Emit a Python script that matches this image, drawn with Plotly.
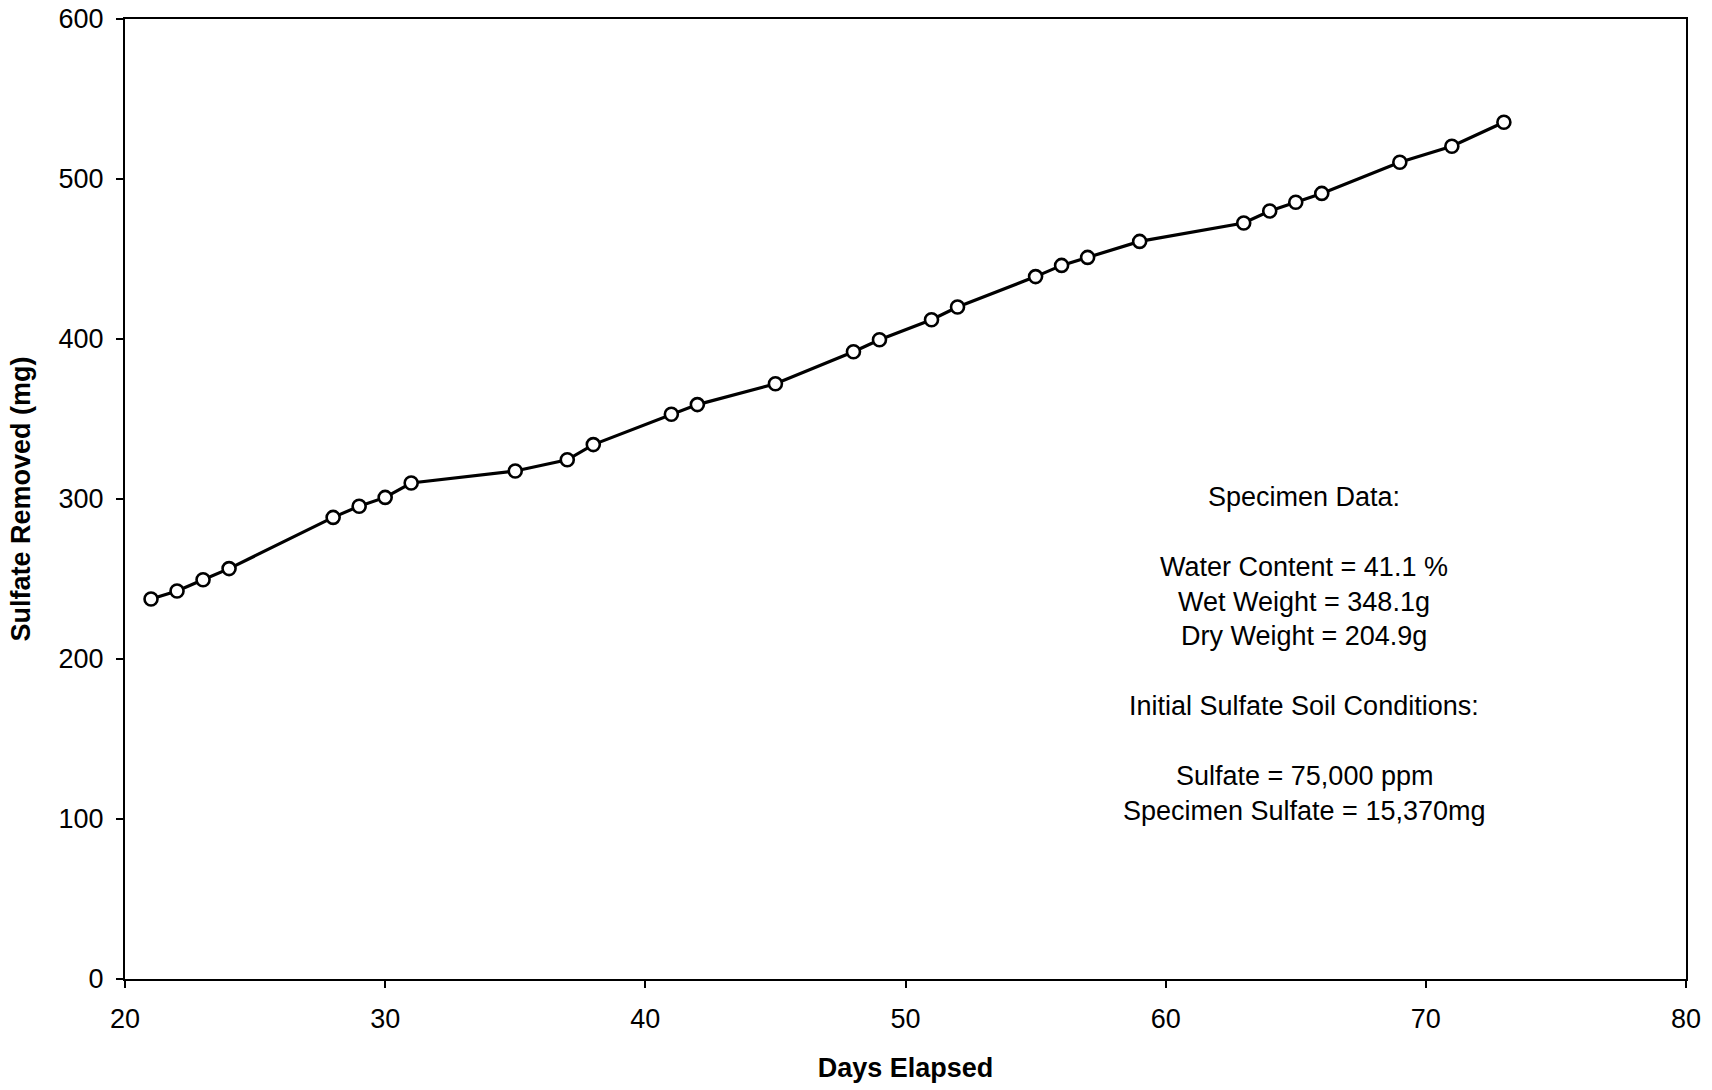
import plotly.graph_objects as go

days = [21, 22, 23, 24, 28, 29, 30, 31, 35, 37, 38, 41, 42, 45, 48, 49, 51, 52,
        55, 56, 57, 59, 63, 64, 65, 66, 69, 71, 73]
sulfate_removed = [237.5, 242.5, 249.5, 256.5, 288.5, 295.5, 301, 310, 317.5, 324.5,
                   334, 353, 359, 372, 392, 399.5, 412, 420, 439, 446, 451, 461,
                   472.5, 480, 485.5, 491, 510.5, 520.5, 535.5]

x_ticks = [20, 30, 40, 50, 60, 70, 80]
y_ticks = [0, 100, 200, 300, 400, 500, 600]

note_lines = [
    "Specimen Data:",
    "",
    "Water Content = 41.1 %",
    "Wet Weight = 348.1g",
    "Dry Weight = 204.9g",
    "",
    "Initial Sulfate Soil Conditions:",
    "",
    "Sulfate = 75,000 ppm",
    "Specimen Sulfate = 15,370mg",
]

FONT = "Liberation Sans, Arial, sans-serif"

fig = go.Figure()
fig.add_trace(go.Scatter(
    x=days, y=sulfate_removed, mode="lines+markers",
    line=dict(color="black", width=3.2),
    marker=dict(symbol="circle", size=13, color="white",
                line=dict(color="black", width=2.6)),
    showlegend=False,
))

# annotation block: centered text, evenly spaced lines
line_step = 21.8  # data units per line
top_y = 301.3
for i, t in enumerate(note_lines):
    if not t:
        continue
    fig.add_annotation(
        x=65.32, y=top_y - i * line_step, xref="x", yref="y",
        text=t, showarrow=False, xanchor="center", yanchor="middle",
        font=dict(family=FONT, size=27, color="black"),
    )

axis_common = dict(
    showline=True, linecolor="black", linewidth=2.2, mirror=True,
    ticks="outside", ticklen=7, tickwidth=1.5, tickcolor="black",
    showgrid=False, zeroline=False, ticklabelstandoff=7,
    ticklabeloverflow="allow", automargin=False,
    tickfont=dict(family=FONT, size=27, color="black"),
)

fig.update_layout(
    width=1712, height=1090,
    paper_bgcolor="white", plot_bgcolor="white",
    margin=dict(l=125, r=26, t=19, b=111),
    xaxis=dict(range=[20, 80], tickvals=x_ticks,
               title=dict(text="<b>Days Elapsed</b>", standoff=26,
                          font=dict(family=FONT, size=27, color="black")),
               **axis_common),
    yaxis=dict(range=[0, 600], tickvals=y_ticks,
               title=dict(text="<b>Sulfate Removed (mg)</b>", standoff=20,
                          font=dict(family=FONT, size=27, color="black")),
               **axis_common),
)

# remove the default page margin so the figure fills the window exactly
fig.write_html(
    "out.html",
    config={"displayModeBar": False},
    post_script="document.body.style.margin='0';document.body.style.overflow='hidden';",
)
